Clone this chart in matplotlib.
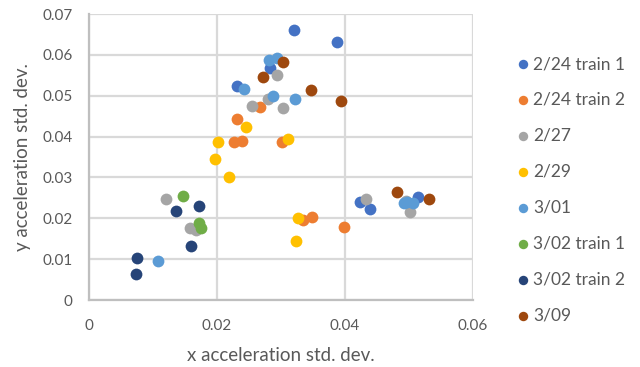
import matplotlib
matplotlib.use("Agg")
import matplotlib.pyplot as plt
from matplotlib.ticker import MultipleLocator, FuncFormatter

plt.rcParams['font.family'] = ['Lato', 'DejaVu Sans']

series_names = ["2/24 train 1", "2/24 train 2", "2/27", "2/29",
                "3/01", "3/02 train 1", "3/02 train 2", "3/09"]
series_colors = ["#4472C4", "#ED7D31", "#A5A5A5", "#FFC000",
                 "#5B9BD5", "#70AD47", "#264478", "#9E480E"]

x_2_24_t1 = [0.0320, 0.0387, 0.0231, 0.0283, 0.0423, 0.0439, 0.0514]
y_2_24_t1 = [0.0661, 0.0631, 0.0524, 0.0568, 0.0240, 0.0223, 0.0252]

x_2_24_t2 = [0.0267, 0.0231, 0.0227, 0.0239, 0.0302, 0.0348, 0.0334, 0.0398]
y_2_24_t2 = [0.0472, 0.0443, 0.0387, 0.0389, 0.0387, 0.0203, 0.0196, 0.0179]

x_2_27 = [0.0255, 0.0293, 0.0280, 0.0303, 0.0120, 0.0158, 0.0167,
          0.0433, 0.0502, 0.0495]
y_2_27 = [0.0475, 0.0550, 0.0492, 0.0470, 0.0247, 0.0176, 0.0171,
          0.0247, 0.0215, 0.0242]

x_2_29 = [0.0245, 0.0202, 0.0197, 0.0219, 0.0311, 0.0327, 0.0323]
y_2_29 = [0.0423, 0.0387, 0.0345, 0.0301, 0.0394, 0.0200, 0.0144]

x_3_01 = [0.0281, 0.0294, 0.0242, 0.0287, 0.0322, 0.0108,
          0.0492, 0.0506, 0.0497]
y_3_01 = [0.0587, 0.0592, 0.0516, 0.0499, 0.0492, 0.0095,
          0.0237, 0.0237, 0.0241]

x_3_02_t1 = [0.0147, 0.0172, 0.0175]
y_3_02_t1 = [0.0255, 0.0189, 0.0177]

x_3_02_t2 = [0.0136, 0.0172, 0.0159, 0.0075, 0.0073]
y_3_02_t2 = [0.0218, 0.0230, 0.0133, 0.0103, 0.0064]

x_3_09 = [0.0303, 0.0272, 0.0347, 0.0394, 0.0481, 0.0531]
y_3_09 = [0.0582, 0.0546, 0.0514, 0.0487, 0.0264, 0.0247]

series_x = [x_2_24_t1, x_2_24_t2, x_2_27, x_2_29, x_3_01, x_3_02_t1, x_3_02_t2, x_3_09]
series_y = [y_2_24_t1, y_2_24_t2, y_2_27, y_2_29, y_3_01, y_3_02_t1, y_3_02_t2, y_3_09]

fig = plt.figure(figsize=(6.4, 3.67), dpi=100)
ax = fig.add_axes([89 / 640, 1 - 300 / 367, 384 / 640, 286 / 367])

for name, color, xs, ys in zip(series_names, series_colors, series_x, series_y):
    ax.scatter(xs, ys, s=72, color=color, label=name, linewidths=0, zorder=3)

ax.set_xlim(0, 0.06)
ax.set_ylim(0, 0.07)
ax.xaxis.set_major_locator(MultipleLocator(0.02))
ax.yaxis.set_major_locator(MultipleLocator(0.01))


def fmt(v, _):
    if abs(v) < 1e-12:
        return "0"
    return f"{v:.2f}"


ax.xaxis.set_major_formatter(FuncFormatter(fmt))
ax.yaxis.set_major_formatter(FuncFormatter(fmt))

ax.grid(True, color="#D9D9D9", linewidth=1.6, zorder=0)
ax.set_axisbelow(True)
for side in ("top", "right"):
    ax.spines[side].set_visible(False)
for side in ("left", "bottom"):
    ax.spines[side].set_color("#BFBFBF")
    ax.spines[side].set_linewidth(1.6)
ax.tick_params(length=0, colors="#595959", labelsize=11)
ax.tick_params(axis="x", pad=14)
ax.tick_params(axis="y", pad=12)

ax.set_xlabel("x acceleration std. dev.", fontsize=13.5, color="#595959", labelpad=10)
ax.set_ylabel("y acceleration std. dev.", fontsize=13.5, color="#595959", labelpad=8)

leg = ax.legend(loc="upper left", bbox_to_anchor=(518 / 640, 1 - 56 / 367),
                bbox_transform=fig.transFigure, frameon=False, fontsize=12.5,
                labelspacing=1.15, handlelength=0.6, handletextpad=0.28,
                markerscale=0.8, borderaxespad=0, borderpad=0)
for t in leg.get_texts():
    t.set_color("#595959")

fig.savefig("out.png", dpi=100)
